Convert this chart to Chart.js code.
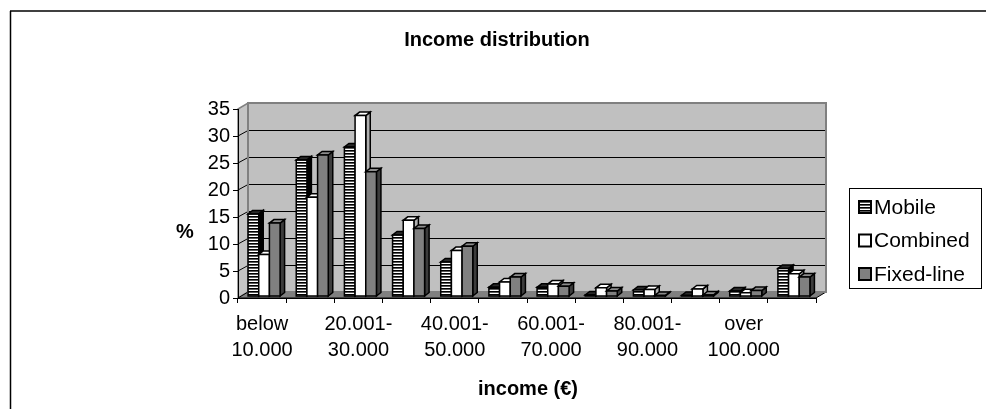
<!DOCTYPE html>
<html>
<head>
<meta charset="utf-8">
<script src="https://cdn.jsdelivr.net/npm/chart.js@4.4.1/dist/chart.umd.min.js"></script>
<style>
  html, body { margin: 0; padding: 0; background: #fff; }
  #wrap { width: 986px; height: 409px; position: relative; }
</style>
</head>
<body>
<div id="wrap"><canvas id="chart" width="986" height="409"></canvas></div>
<script>
// Income brackets (two-line axis labels); only every second one is printed
const categories = [
  ['below', '10.000'], ['10.001-', '20.000'], ['20.001-', '30.000'],
  ['30.001-', '40.000'], ['40.001-', '50.000'], ['50.001-', '60.000'],
  ['60.001-', '70.000'], ['70.001-', '80.000'], ['80.001-', '90.000'],
  ['90.001-', '100.000'], ['over', '100.000'], ['no', 'answer']
];

// Share of households (%) per income bracket
const mobile    = [15.3, 25.3, 27.7, 11.4, 6.4, 1.7, 1.7, 0.3, 1.2, 0.2, 1.0, 5.2];
const combined  = [7.8, 18.4, 33.5, 14.1, 8.5, 2.7, 2.3, 1.6, 1.3, 1.4, 0.7, 4.2];
const fixedLine = [13.6, 26.2, 23.1, 12.6, 9.3, 3.6, 1.9, 1.0, 0.2, 0.3, 1.1, 3.6];

const seriesNames = ['Mobile', 'Combined', 'Fixed-line'];
const yTicks = { min: 0, max: 35, step: 5 };

const FONT = "'Liberation Sans', Arial, sans-serif";

// depth of the 3-D box and of each column
const WALL = { dx: 10, dy: 6 };
const BAR = { dx: 4.5, dy: 3.5 };
const BAR_SHIFT = { dx: 2, dy: -1.5 };

// horizontal stripe fill used by the Mobile series
function stripePattern(ctx) {
  const c = document.createElement('canvas');
  c.width = 4; c.height = 3;
  const p = c.getContext('2d');
  p.fillStyle = '#ffffff'; p.fillRect(0, 0, 4, 3);
  p.fillStyle = '#000000'; p.fillRect(0, 0, 4, 1);
  p.fillStyle = '#5a5a5a'; p.fillRect(0, 1, 4, 1);
  return ctx.createPattern(c, 'repeat');
}

function poly(ctx, pts, fill) {
  ctx.beginPath();
  ctx.moveTo(pts[0][0], pts[0][1]);
  for (let i = 1; i < pts.length; i++) ctx.lineTo(pts[i][0], pts[i][1]);
  ctx.closePath();
  ctx.fillStyle = fill;
  ctx.fill();
  ctx.stroke();
}

const ctxMain = document.getElementById('chart').getContext('2d');
const stripes = stripePattern(ctxMain);

const faceStyles = [
  { front: stripes, top: '#2a2a2a', side: '#000000' },
  { front: '#ffffff', top: '#ffffff', side: '#b0b0b0' },
  { front: '#808080', top: '#8c8c8c', side: '#3c3c3c' }
];

const boxPlugin = {
  id: 'box3d',
  beforeDraw(chart) {
    const { ctx, chartArea: a, scales } = chart;
    const y = scales.y;
    ctx.save();
    // outer frame
    ctx.strokeStyle = '#404040';
    ctx.lineWidth = 2;
    ctx.beginPath(); ctx.moveTo(10, 11); ctx.lineTo(986, 11); ctx.stroke();
    ctx.strokeStyle = '#000';
    ctx.lineWidth = 1.5;
    ctx.beginPath(); ctx.moveTo(10.5, 11); ctx.lineTo(10.5, 409); ctx.stroke();

    const L = a.left, R = a.right, T = a.top, B = a.bottom;
    const dx = WALL.dx, dy = WALL.dy;
    // back wall
    ctx.fillStyle = '#c0c0c0';
    ctx.fillRect(L + dx, T - dy, R - L, B - T);
    // side wall
    ctx.strokeStyle = '#808080';
    ctx.lineWidth = 1.5;
    poly(ctx, [[L, T], [L + dx, T - dy], [L + dx, B - dy], [L, B]], '#c4c4c4');
    // floor
    ctx.strokeStyle = '#000';
    ctx.lineWidth = 1;
    poly(ctx, [[L, B], [L + dx, B - dy], [R + dx, B - dy], [R, B]], '#808080');
    // grid lines on the back wall and the side wall
    ctx.strokeStyle = '#000';
    ctx.lineWidth = 1;
    for (let v = yTicks.min + yTicks.step; v < yTicks.max; v += yTicks.step) {
      const py = Math.round(y.getPixelForValue(v) - dy) + 0.5;
      ctx.beginPath();
      ctx.moveTo(L, y.getPixelForValue(v));
      ctx.lineTo(L + dx, py);
      ctx.lineTo(R + dx, py);
      ctx.stroke();
    }
    // back wall border
    ctx.strokeStyle = '#808080';
    ctx.lineWidth = 2;
    ctx.strokeRect(L + dx, T - dy, R - L, B - T);
    ctx.restore();
  },
  beforeDatasetDraw() {
    return false;
  },
  afterDatasetsDraw(chart) {
    const { ctx } = chart;
    ctx.save();
    ctx.strokeStyle = '#000';
    ctx.lineWidth = 1.5;
    ctx.lineJoin = 'miter';
    const n = chart.data.labels.length;
    for (let j = 0; j < n; j++) {
      chart.data.datasets.forEach((ds, i) => {
        const el = chart.getDatasetMeta(i).data[j];
        const { x, y, base, width } = el.getProps(['x', 'y', 'base', 'width'], true);
        const x0 = x - width / 2 + BAR_SHIFT.dx, x1 = x + width / 2 + BAR_SHIFT.dx;
        const yt = y + BAR_SHIFT.dy, yb = base + BAR_SHIFT.dy;
        const st = faceStyles[i];
        poly(ctx, [[x1, yt], [x1 + BAR.dx, yt - BAR.dy], [x1 + BAR.dx, yb - BAR.dy], [x1, yb]], st.side);
        poly(ctx, [[x0, yt], [x1, yt], [x1 + BAR.dx, yt - BAR.dy], [x0 + BAR.dx, yt - BAR.dy]], st.top);
        poly(ctx, [[x0, yt], [x1, yt], [x1, yb], [x0, yb]], st.front);
      });
    }
    ctx.restore();
  },
  afterDraw(chart) {
    const { ctx } = chart;
    ctx.save();
    ctx.fillStyle = '#000';
    ctx.textBaseline = 'middle';
    ctx.textAlign = 'center';
    ctx.font = 'bold 20px ' + FONT;
    ctx.fillText('Income distribution', 497, 40);
    ctx.fillText('%', 185, 232);
    ctx.fillText('income (€)', 528, 389);

    // legend
    ctx.strokeStyle = '#000';
    ctx.lineWidth = 1;
    ctx.strokeRect(849.5, 188.5, 132, 100);
    const rows = [207, 240.5, 274];
    ctx.font = '21px ' + FONT;
    ctx.textAlign = 'left';
    seriesNames.forEach((name, i) => {
      const cy = rows[i];
      ctx.fillStyle = faceStyles[i].front;
      ctx.fillRect(859, cy - 6, 12, 12);
      ctx.lineWidth = 2;
      ctx.strokeRect(859, cy - 6, 12, 12);
      ctx.fillStyle = '#000';
      ctx.fillText(name, 874, cy + 1);
    });
    ctx.restore();
  }
};

new Chart(ctxMain, {
  type: 'bar',
  data: {
    labels: categories,
    datasets: [
      { label: seriesNames[0], data: mobile },
      { label: seriesNames[1], data: combined },
      { label: seriesNames[2], data: fixedLine }
    ].map(d => Object.assign(d, { backgroundColor: 'rgba(0,0,0,0)', borderWidth: 0 }))
  },
  options: {
    responsive: false,
    animation: false,
    events: [],
    categoryPercentage: 0.665,
    barPercentage: 1.0,
    layout: { padding: { left: 0, right: 170, top: 109, bottom: 0 } },
    plugins: { legend: { display: false }, title: { display: false }, tooltip: { enabled: false } },
    scales: {
      x: {
        afterFit(s) { s.height = 111; },
        grid: { display: true, drawOnChartArea: false, drawTicks: true, tickLength: 5, color: '#000', offset: true },
        border: { color: '#000', width: 1 },
        ticks: {
          autoSkip: false, maxRotation: 0, minRotation: 0, padding: 8,
          color: '#000', font: { family: FONT, size: 20, lineHeight: 1.3 },
          callback(v, i) { return i % 2 === 0 ? categories[i] : ''; }
        }
      },
      y: {
        min: yTicks.min, max: yTicks.max,
        afterFit(s) { s.width = 238; },
        grid: { display: true, drawOnChartArea: false, drawTicks: true, tickLength: 5, color: '#000' },
        border: { color: '#000', width: 1 },
        ticks: { stepSize: yTicks.step, padding: 3, color: '#000', font: { family: FONT, size: 20 } }
      }
    }
  },
  plugins: [boxPlugin]
});
</script>
</body>
</html>
